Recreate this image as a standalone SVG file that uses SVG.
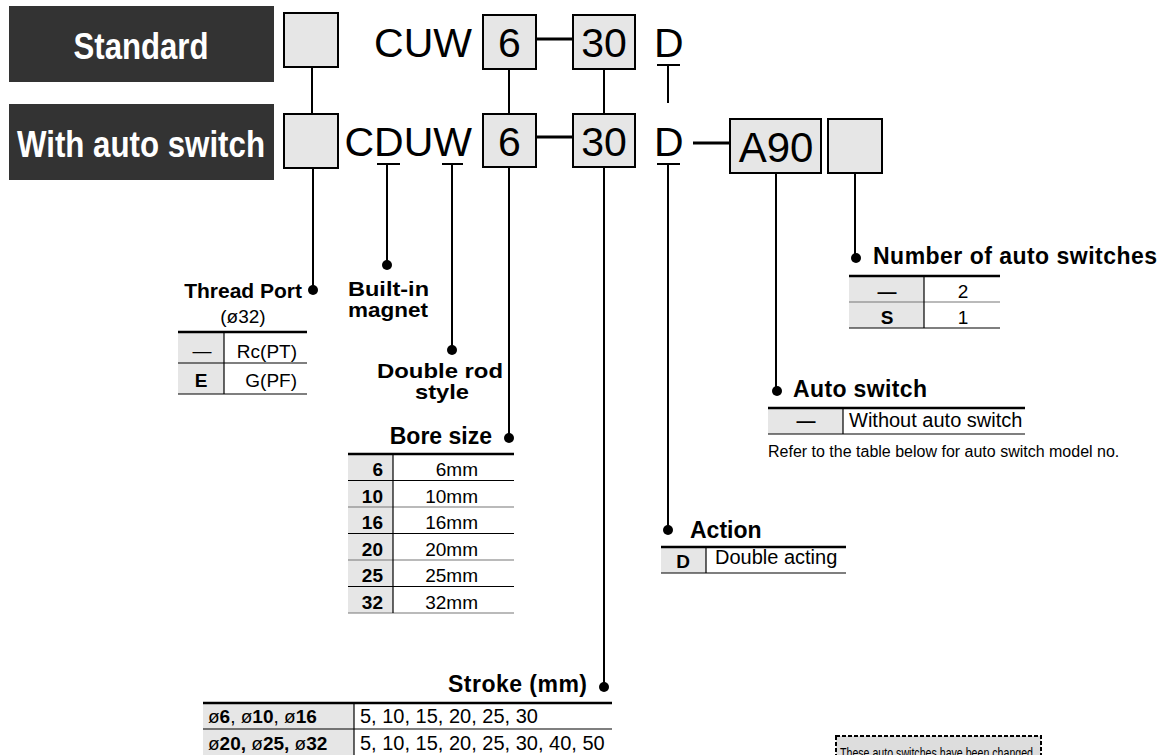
<svg xmlns="http://www.w3.org/2000/svg" width="1169" height="755" viewBox="0 0 1169 755">
<style>
text{font-family:"Liberation Sans",Arial,Helvetica,sans-serif;fill:#000}
.hdr{fill:#333}
.hdrt{font-weight:bold;font-size:37px;fill:#fff}
.code{font-size:41px}
.box{fill:#e6e6e6;stroke:#000;stroke-width:2}
.ln{stroke:#000;stroke-width:2;fill:none}
.lnb{stroke:#000;stroke-width:3;fill:none}
.lbl{font-weight:bold;font-size:23px}
.lbl2{font-weight:bold;font-size:20.5px}
.t{font-size:19px}
.t20{font-size:20px}
.tb{font-size:19px;font-weight:bold}
.cell{fill:#e6e6e6}
.rt{stroke:#000;stroke-width:2.5}
.r{stroke:#000;stroke-width:1.2}
.rg{stroke:#777;stroke-width:1.2}
.note{font-size:16px}
</style>
<defs>
<circle id="dot" r="5" fill="#000"/>
</defs>

<g id="hdr-standard">
<rect class="hdr" x="9" y="6" width="265" height="76"/>
<text class="hdrt" x="141" y="59" text-anchor="middle" textLength="135" lengthAdjust="spacingAndGlyphs">Standard</text>
</g>
<g id="hdr-auto">
<rect class="hdr" x="9" y="104" width="265" height="76"/>
<text class="hdrt" x="141" y="157" text-anchor="middle" textLength="248" lengthAdjust="spacingAndGlyphs">With auto switch</text>
</g>

<g id="row1">
<rect class="box" x="284" y="13" width="54" height="54"/>
<text class="code" x="472" y="57" text-anchor="end">CUW</text>
<rect class="box" x="483" y="15" width="53" height="54"/>
<text class="code" x="509.5" y="57" text-anchor="middle">6</text>
<rect class="box" x="573" y="15" width="62" height="54"/>
<text class="code" x="604" y="57" text-anchor="middle">30</text>
<text class="code" x="654" y="57">D</text>
</g>

<g id="row2">
<rect class="box" x="284" y="114" width="54" height="54"/>
<text class="code" x="472" y="156" text-anchor="end">CDUW</text>
<rect class="box" x="483" y="114" width="53" height="53"/>
<text class="code" x="509.5" y="156" text-anchor="middle">6</text>
<rect class="box" x="573" y="114" width="62" height="53"/>
<text class="code" x="604" y="156" text-anchor="middle">30</text>
<text class="code" x="654" y="156">D</text>
<rect class="box" x="730" y="119" width="91" height="54"/>
<text class="code" x="776" y="162" text-anchor="middle" style="font-size:42px">A90</text>
<rect class="box" x="828" y="119" width="54" height="54"/>
</g>

<g id="connectors">
<path class="ln" d="M312 67V114 M509 69V114 M604 69V114"/>
<path class="lnb" d="M536 39H573 M536 137H573 M693 143H730"/>
<path class="ln" d="M657 65H680 M668 65V103"/>
<path class="ln" d="M657 164H680 M668 164V530"/>
<path class="ln" d="M377 164H400 M387 164V265"/>
<path class="ln" d="M442 164H463 M452 164V350"/>
<path class="ln" d="M313 168V290 M509 167V438 M604 167V687 M776 173V391 M855 173V258"/>
<use href="#dot" x="313" y="290"/>
<use href="#dot" x="387" y="265"/>
<use href="#dot" x="452" y="350"/>
<use href="#dot" x="509" y="438"/>
<use href="#dot" x="604" y="687"/>
<use href="#dot" x="668" y="530"/>
<use href="#dot" x="777" y="391"/>
<use href="#dot" x="856" y="258"/>
</g>

<g id="thread-port">
<text class="lbl" x="302" y="298" text-anchor="end" style="font-size:21px">Thread Port</text>
<text class="t" x="243" y="323" text-anchor="middle">(ø32)</text>
<rect class="cell" x="178" y="332" width="46" height="62"/>
<line class="rt" x1="178" y1="332" x2="307" y2="332"/>
<line class="r" x1="178" y1="363" x2="307" y2="363"/>
<line class="r" x1="178" y1="394" x2="307" y2="394"/>
<line class="r" x1="224" y1="332" x2="224" y2="394"/>
<text class="t" x="202" y="357" text-anchor="middle">—</text>
<text class="t" x="297" y="358" text-anchor="end">Rc(PT)</text>
<text class="tb" x="201" y="387" text-anchor="middle">E</text>
<text class="t" x="297" y="387" text-anchor="end">G(PF)</text>
</g>

<g id="built-in-magnet">
<text class="lbl2" x="348" y="296" textLength="81" lengthAdjust="spacingAndGlyphs">Built-in</text>
<text class="lbl2" x="348" y="317" textLength="80" lengthAdjust="spacingAndGlyphs">magnet</text>
</g>

<g id="double-rod">
<text class="lbl2" x="440" y="378" text-anchor="middle" textLength="126" lengthAdjust="spacingAndGlyphs">Double rod</text>
<text class="lbl2" x="442" y="399" text-anchor="middle" textLength="54" lengthAdjust="spacingAndGlyphs">style</text>
</g>

<g id="bore-size">
<text class="lbl" x="492" y="444" text-anchor="end">Bore size</text>
<rect class="cell" x="348" y="454" width="45" height="159"/>
<line class="rt" x1="348" y1="454" x2="514" y2="454"/>
<line class="r" x1="348" y1="480.5" x2="514" y2="480.5"/>
<line class="rg" x1="348" y1="507" x2="514" y2="507"/>
<line class="r" x1="348" y1="533.5" x2="514" y2="533.5"/>
<line class="rg" x1="348" y1="560" x2="514" y2="560"/>
<line class="r" x1="348" y1="586.5" x2="514" y2="586.5"/>
<line class="rg" x1="348" y1="613" x2="514" y2="613"/>
<line class="r" x1="393" y1="454" x2="393" y2="613"/>
<text class="tb" x="383" y="476" text-anchor="end">6</text>
<text class="tb" x="383" y="502.5" text-anchor="end">10</text>
<text class="tb" x="383" y="529" text-anchor="end">16</text>
<text class="tb" x="383" y="555.5" text-anchor="end">20</text>
<text class="tb" x="383" y="582" text-anchor="end">25</text>
<text class="tb" x="383" y="608.5" text-anchor="end">32</text>
<text class="t" x="478" y="476" text-anchor="end">6mm</text>
<text class="t" x="478" y="502.5" text-anchor="end">10mm</text>
<text class="t" x="478" y="529" text-anchor="end">16mm</text>
<text class="t" x="478" y="555.5" text-anchor="end">20mm</text>
<text class="t" x="478" y="582" text-anchor="end">25mm</text>
<text class="t" x="478" y="608.5" text-anchor="end">32mm</text>
</g>

<g id="num-switches">
<text class="lbl" x="873" y="264" textLength="284" lengthAdjust="spacing">Number of auto switches</text>
<rect class="cell" x="849" y="276" width="75" height="52"/>
<line class="rt" x1="849" y1="276" x2="1000" y2="276"/>
<line class="rg" x1="849" y1="302" x2="1000" y2="302"/>
<line class="r" x1="849" y1="328" x2="1000" y2="328"/>
<line class="r" x1="924" y1="276" x2="924" y2="328"/>
<text class="tb" x="887" y="298" text-anchor="middle">—</text>
<text class="t" x="963" y="298" text-anchor="middle">2</text>
<text class="tb" x="887" y="324" text-anchor="middle">S</text>
<text class="t" x="963" y="324" text-anchor="middle">1</text>
</g>

<g id="auto-switch">
<text class="lbl" x="793" y="397" textLength="134" lengthAdjust="spacing">Auto switch</text>
<rect class="cell" x="768" y="408" width="75" height="26"/>
<line class="rt" x1="768" y1="408" x2="1025" y2="408"/>
<line class="r" x1="768" y1="434" x2="1025" y2="434"/>
<line class="r" x1="843" y1="408" x2="843" y2="434"/>
<text class="tb" x="806" y="427" text-anchor="middle">—</text>
<text class="t20" x="849" y="427">Without auto switch</text>
<text class="note" x="768" y="457">Refer to the table below for auto switch model no.</text>
</g>

<g id="action">
<text class="lbl" x="690" y="538">Action</text>
<rect class="cell" x="661" y="547" width="45" height="26"/>
<line class="rt" x1="661" y1="547" x2="846" y2="547"/>
<line class="r" x1="661" y1="573" x2="846" y2="573"/>
<line class="r" x1="706" y1="547" x2="706" y2="573"/>
<text class="tb" x="683" y="568" text-anchor="middle">D</text>
<text class="t20" x="715" y="564">Double acting</text>
</g>

<g id="stroke">
<text class="lbl" x="587" y="692" text-anchor="end" textLength="139" lengthAdjust="spacing">Stroke (mm)</text>
<rect class="cell" x="203" y="703" width="151" height="60"/>
<line class="rt" x1="203" y1="703" x2="612" y2="703"/>
<line class="r" x1="203" y1="729" x2="612" y2="729"/>
<line class="r" x1="354" y1="703" x2="354" y2="760"/>
<text class="t" x="208" y="723">ø<tspan font-weight="bold">6</tspan>, ø<tspan font-weight="bold">10</tspan>, ø<tspan font-weight="bold">16</tspan></text>
<text class="t" x="208" y="750">ø<tspan font-weight="bold">20,</tspan> ø<tspan font-weight="bold">25,</tspan> ø<tspan font-weight="bold">32</tspan></text>
<text class="t20" x="360" y="723">5, 10, 15, 20, 25, 30</text>
<text class="t20" x="360" y="750">5, 10, 15, 20, 25, 30, 40, 50</text>
</g>

<g id="note-changed">
<rect x="836" y="736" width="205" height="40" fill="#ddd" stroke="#000" stroke-width="2" stroke-dasharray="4 2"/>
<text x="840" y="758" style="font-size:14px" textLength="193" lengthAdjust="spacingAndGlyphs">These auto switches have been changed</text>
</g>
</svg>
